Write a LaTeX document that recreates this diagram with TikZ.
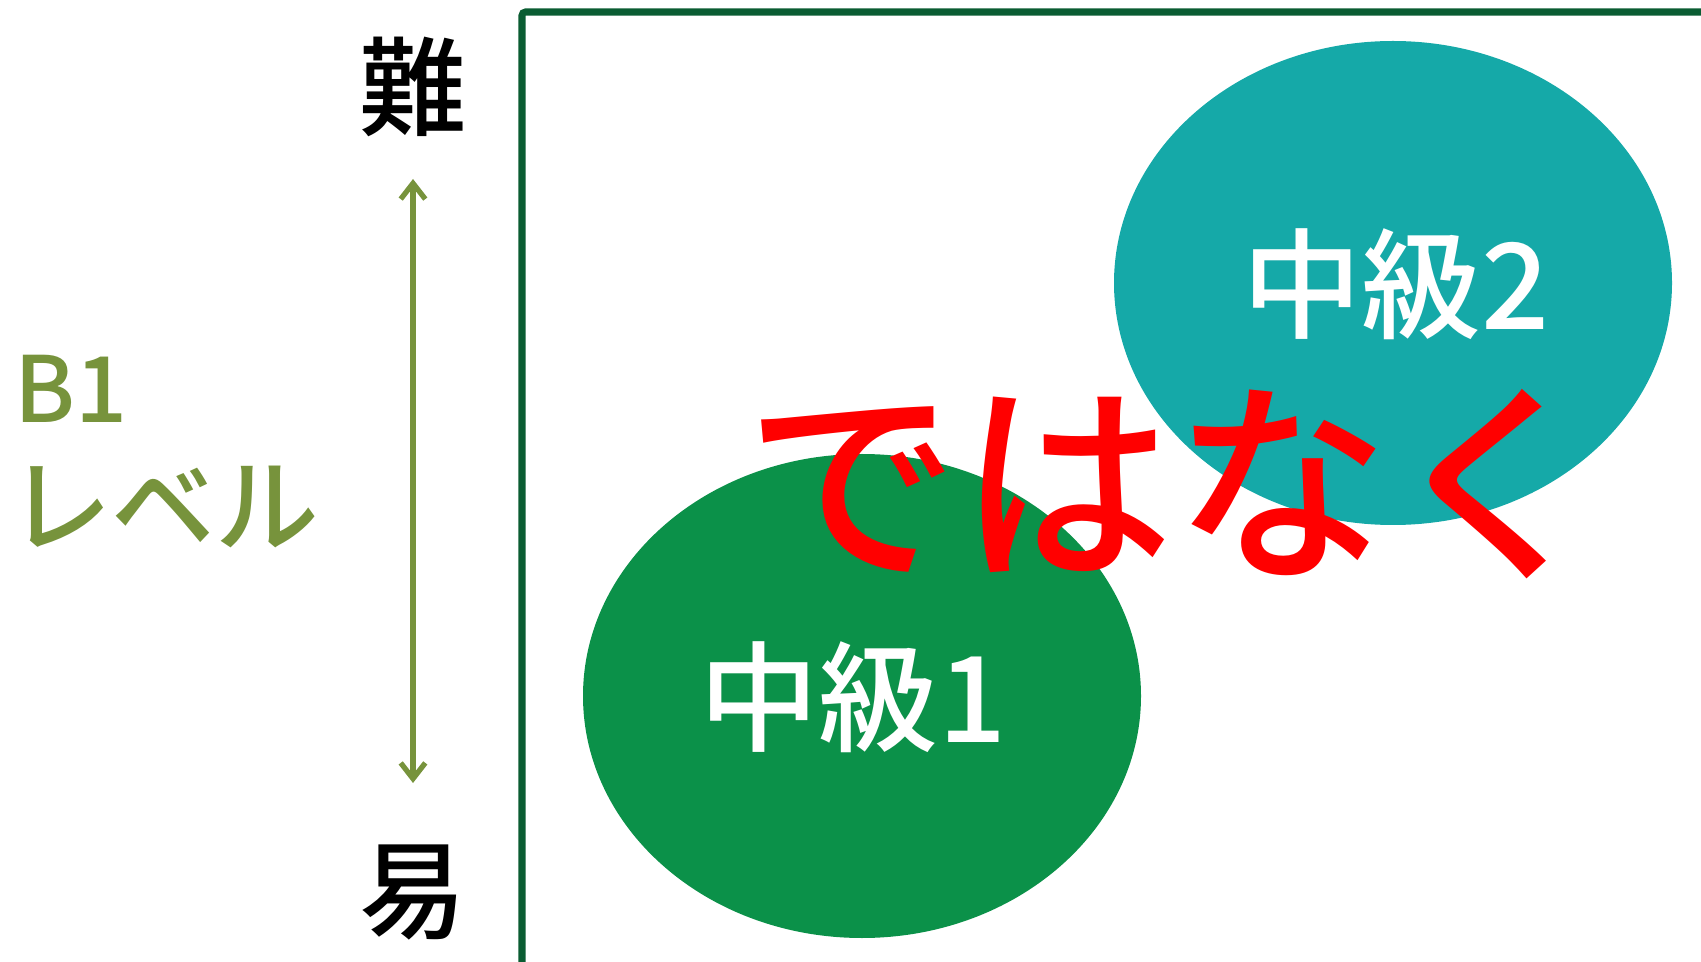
\documentclass[tikz,border=0pt]{standalone}
\usepackage{fontspec}
\setmainfont{Noto Sans CJK JP}[UprightFont={* Medium},BoldFont={* Bold}]
\usepackage{tikz}
\usetikzlibrary{arrows.meta}
\definecolor{frameGreen}{HTML}{0A5C32}
\definecolor{lvGreen}{HTML}{0B9149}
\definecolor{lvTeal}{HTML}{15A9A8}
\definecolor{olive}{HTML}{77933C}

\begin{document}
\begin{tikzpicture}[x=0.02cm,y=-0.02cm,
  lvl/.style={fill=#1,draw=none},
  lvtext/.style={text=white,font=\fontsize{68}{70}\selectfont},
  side/.style={font=\fontsize{61}{64}\selectfont}]
\useasboundingbox (0,0) rectangle (1701,962);
% frame
\draw[frameGreen,line width=4pt,rounded corners=2pt] (522,975) -- (522,12) -- (1710,12);
% the two levels
\fill[lvl=lvGreen] (862,696) ellipse [x radius=279,y radius=242];
\fill[lvl=lvTeal] (1393,283) ellipse [x radius=279,y radius=242];
\node[lvtext] (mid1) at (853,697) {中級1};
\node[lvtext] (mid2) at (1396,284) {中級2};
% axis
\node[side] (hard) at (413,87) {難};
\node[side] (easy) at (413,893) {易};
\coordinate (up) at (413,179);
\coordinate (down) at (413,783);
\draw[olive,line width=3pt,{Straight Barb[length=9pt,width=14pt]}-{Straight Barb[length=9pt,width=14pt]}] (up) -- (down);
\node[olive,font=\fontsize{52}{56}\selectfont,anchor=west] (b1) at (8,389) {B1};
\node[olive,font=\fontsize{59}{62}\selectfont,anchor=west] (lvl) at (2,507) {レベル};
% not ... but
\node[text=red,font=\fontsize{122}{126}\selectfont] (not) at (1174,484) {ではなく};
\end{tikzpicture}
\end{document}
